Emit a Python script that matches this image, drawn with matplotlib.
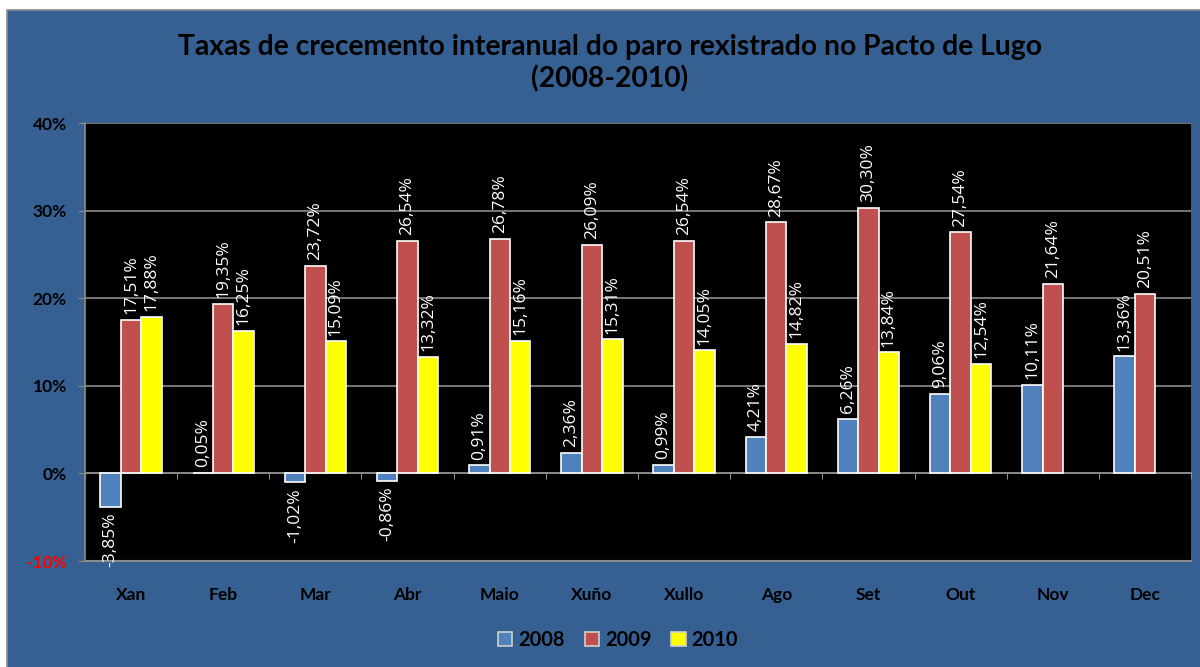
import numpy as np
import matplotlib.pyplot as plt
from matplotlib.patches import Rectangle

# Data
months = ["Xan", "Feb", "Mar", "Abr", "Maio", "Xuño", "Xullo", "Ago", "Set", "Out", "Nov", "Dec"]
years = ["2008", "2009", "2010"]
v2008 = [-3.85, 0.05, -1.02, -0.86, 0.91, 2.36, 0.99, 4.21, 6.26, 9.06, 10.11, 13.36]
v2009 = [17.51, 19.35, 23.72, 26.54, 26.78, 26.09, 26.54, 28.67, 30.30, 27.54, 21.64, 20.51]
v2010 = [17.88, 16.25, 15.09, 13.32, 15.16, 15.31, 14.05, 14.82, 13.84, 12.54, np.nan, np.nan]
yticks = [-10, 0, 10, 20, 30, 40]

colors = ["#4F81BD", "#C0504D", "#FFFF00"]
bg = "#366092"

plt.rcParams['font.family'] = ['Lato', 'DejaVu Sans']

fig = plt.figure(figsize=(12, 6.67), dpi=100)
fig.patch.set_facecolor("white")
# blue chart area with thin grey frame
fig.patches.append(Rectangle((7 / 1200, -0.01), 1.0, 1 - 10 / 667 + 0.01,
                             transform=fig.transFigure, facecolor=bg,
                             edgecolor="#8c8c8c", linewidth=1.2, zorder=-5))

ax = fig.add_axes([85 / 1200, 1 - 561 / 667, 1106 / 1200, 438 / 667])
ax.set_facecolor("black")

x = np.arange(len(months))
w = 0.222
series = [v2008, v2009, v2010]
for i, (vals, c, lab) in enumerate(zip(series, colors, years)):
    xs = x + (i - 1) * w
    ax.bar(xs, vals, w, color=c, edgecolor="white", linewidth=1.2, label=lab, zorder=3)
    for xi, v in zip(xs, vals):
        if np.isnan(v):
            continue
        txt = f"{v:.2f}%".replace(".", ",")
        if v >= 0:
            ax.annotate(txt, (xi, v), xytext=(0, 4), textcoords="offset points",
                        rotation=90, ha="center", va="bottom", color="white",
                        fontsize=12.5, family="Open Sans", zorder=4)
        else:
            ax.annotate(txt, (xi, v), xytext=(0, -4), textcoords="offset points",
                        rotation=90, ha="center", va="top", color="white",
                        fontsize=12.5, family="Open Sans", zorder=4)

ax.set_xlim(-0.5, len(months) - 0.5)
ax.set_ylim(-10, 40)
ax.set_yticks(yticks)
ax.set_yticklabels([f"{t}%" for t in yticks], fontsize=12.5, fontweight="bold")
ax.get_yticklabels()[0].set_color("red")
ax.tick_params(axis="y", length=5, color="#8c8c8c", pad=8)
ax.grid(axis="y", color="#8c8c8c", linewidth=1.2, zorder=1)

# x axis crossing at zero with ticks between categories
ax.spines["bottom"].set_position(("data", 0))
ax.spines["bottom"].set_color("#8c8c8c")
ax.spines["bottom"].set_linewidth(1.2)
ax.spines["bottom"].set_zorder(2)
ax.set_xticks(np.arange(len(months) + 1) - 0.5)
ax.set_xticklabels([])
ax.tick_params(axis="x", length=4, color="#8c8c8c", direction="out")

# category labels along the bottom edge
sec = ax.secondary_xaxis(0)
sec.set_xticks(x)
sec.set_xticklabels(months, fontsize=12.5, fontweight="bold")
sec.tick_params(length=0, pad=19)
sec.spines["bottom"].set_color("#8c8c8c")
sec.spines["bottom"].set_linewidth(1.5)

ax.spines["left"].set_color("#8c8c8c")
ax.spines["left"].set_linewidth(1.2)
ax.spines["top"].set_visible(False)
ax.spines["right"].set_visible(False)

fig.text(0.508, 0.905, "Taxas de crecemento interanual do paro rexistrado no Pacto de Lugo\n(2008-2010)",
         ha="center", va="center", fontsize=20.3, fontweight="bold", linespacing=1.25)

leg = fig.legend(loc="center", bbox_to_anchor=(0.515, 0.04), ncol=3, frameon=False,
                 prop={"size": 14.5, "weight": "bold"}, handlelength=0.7, handleheight=0.7,
                 handletextpad=0.3, columnspacing=1.0)
for h in leg.legend_handles:
    h.set_edgecolor("#d0d0d0")

plt.savefig("out.png", dpi=100, facecolor=fig.get_facecolor())
